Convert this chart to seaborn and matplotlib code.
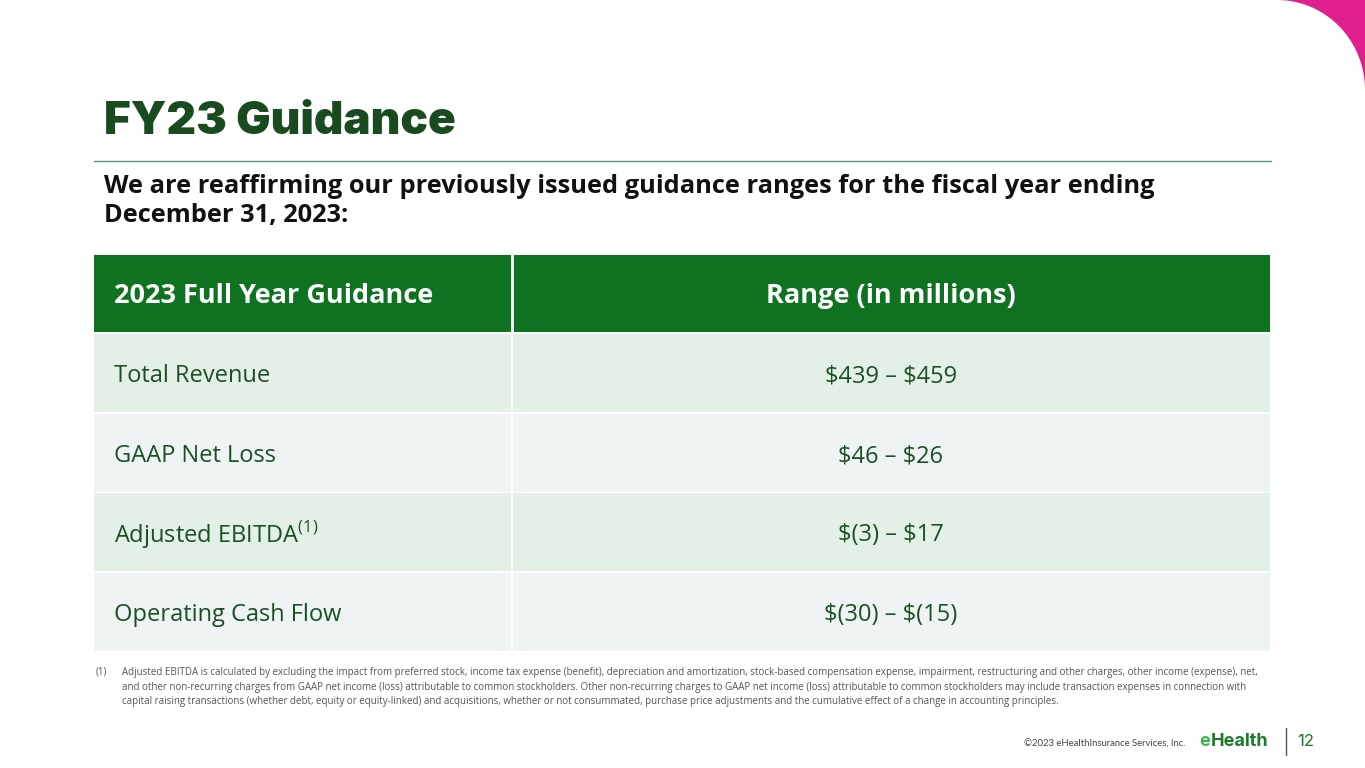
import numpy as np
import matplotlib
matplotlib.use("Agg")
import matplotlib.pyplot as plt
from matplotlib.patches import Rectangle, Polygon
import seaborn as sns

header = ["2023 Full Year Guidance", "Range (in millions)"]
metrics = ["Total Revenue", "GAAP Net Loss", "Adjusted EBITDA$^{(1)}$", "Operating Cash Flow"]
ranges = ["\\$439 – \\$459", "\\$46 – \\$26", "\\$(3) – \\$17", "\\$(30) – \\$(15)"]
row_colors = ["#e3f0e6", "#eef3f3", "#e3f0e6", "#eef3f3"]

sns.set_style("white")
plt.rcParams["font.family"] = ["Open Sans", "DejaVu Sans"]
plt.rcParams["mathtext.fontset"] = "custom"
plt.rcParams["mathtext.rm"] = "Open Sans"

fig = plt.figure(figsize=(13.65, 7.68), dpi=100)
ax = fig.add_axes([0, 0, 1, 1])
ax.set_xlim(0, 1365)
ax.set_ylim(768, 0)
ax.axis("off")

dark = "#1d4f24"
# pink corner
t = np.linspace(0, np.pi / 2, 60)
arc = np.column_stack([1277 + 88 * np.sin(t), 90 - 90 * np.cos(t)])
ax.add_patch(Polygon(np.vstack([arc, [[1365, 0]]]), closed=True, color="#e0208c", lw=0))

ax.text(104, 122, "FY23 Guidance", fontsize=33, fontweight="black", family=["Inter", "DejaVu Sans"],
        color="#1a4a1f", va="center", ha="left")
ax.plot([94, 1271], [161, 161], color="#5a8f80", lw=1)
ax.text(104, 201, "We are reaffirming our previously issued guidance ranges for the fiscal year ending\nDecember 31, 2023:",
        fontsize=18.3, fontweight="bold", color="#111111", va="center", ha="left", linespacing=1.25)

x0, xm, x1 = 94, 512, 1270
ax.add_patch(Rectangle((x0, 255), x1 - x0, 77, color="#0e7220", lw=0))
ax.plot([xm, xm], [255, 332], color="white", lw=2)
ax.text(114, 296, header[0], fontsize=19.5, fontweight="bold", color="white", va="center")
ax.text((xm + x1) / 2, 296, header[1], fontsize=19.5, fontweight="bold", color="white", va="center", ha="center")

tops = [334, 414, 493, 573]
for top, name, rng, c in zip(tops, metrics, ranges, row_colors):
    ax.add_patch(Rectangle((x0, top), xm - x0 - 1, 78, color=c, lw=0))
    ax.add_patch(Rectangle((xm + 1, top), x1 - xm - 1, 78, color=c, lw=0))
    ax.text(114, top + 42, name, fontsize=17, color=dark, va="center")
    ax.text((xm + x1) / 2, top + 42, rng, fontsize=17, color=dark, va="center", ha="center")

foot = ("Adjusted EBITDA is calculated by excluding the impact from preferred stock, income tax expense (benefit), depreciation and amortization, stock-based compensation expense, impairment, restructuring and other charges, other income (expense), net,\n"
        "and other non-recurring charges from GAAP net income (loss) attributable to common stockholders. Other non-recurring charges to GAAP net income (loss) attributable to common stockholders may include transaction expenses in connection with\n"
        "capital raising transactions (whether debt, equity or equity-linked) and acquisitions, whether or not consummated, purchase price adjustments and the cumulative effect of a change in accounting principles.")
ax.text(96, 667, "(1)", fontsize=7, color="#555555", va="top")
ax.text(122, 667, foot, fontsize=7, color="#555555", va="top", linespacing=1.45)

ax.text(1186, 744, "©2023 eHealthInsurance Services, Inc.", fontsize=6.8, color="#444444", ha="right", va="center",
        family=["Lato", "DejaVu Sans"])
ax.text(1199, 741, "e", fontsize=13, fontweight="bold", color="#39b54a", ha="left", va="center", family=["Inter", "DejaVu Sans"])
ax.text(1211, 741, "Health", fontsize=13, fontweight="bold", color="#1e7a2c", ha="left", va="center", family=["Inter", "DejaVu Sans"])
ax.plot([1286, 1286], [728, 755], color="#555555", lw=1)
ax.text(1297, 742, "12", fontsize=12, color="#1e7a2c", ha="left", va="center", family=["Inter", "DejaVu Sans"])

fig.savefig("out.png", dpi=100)
